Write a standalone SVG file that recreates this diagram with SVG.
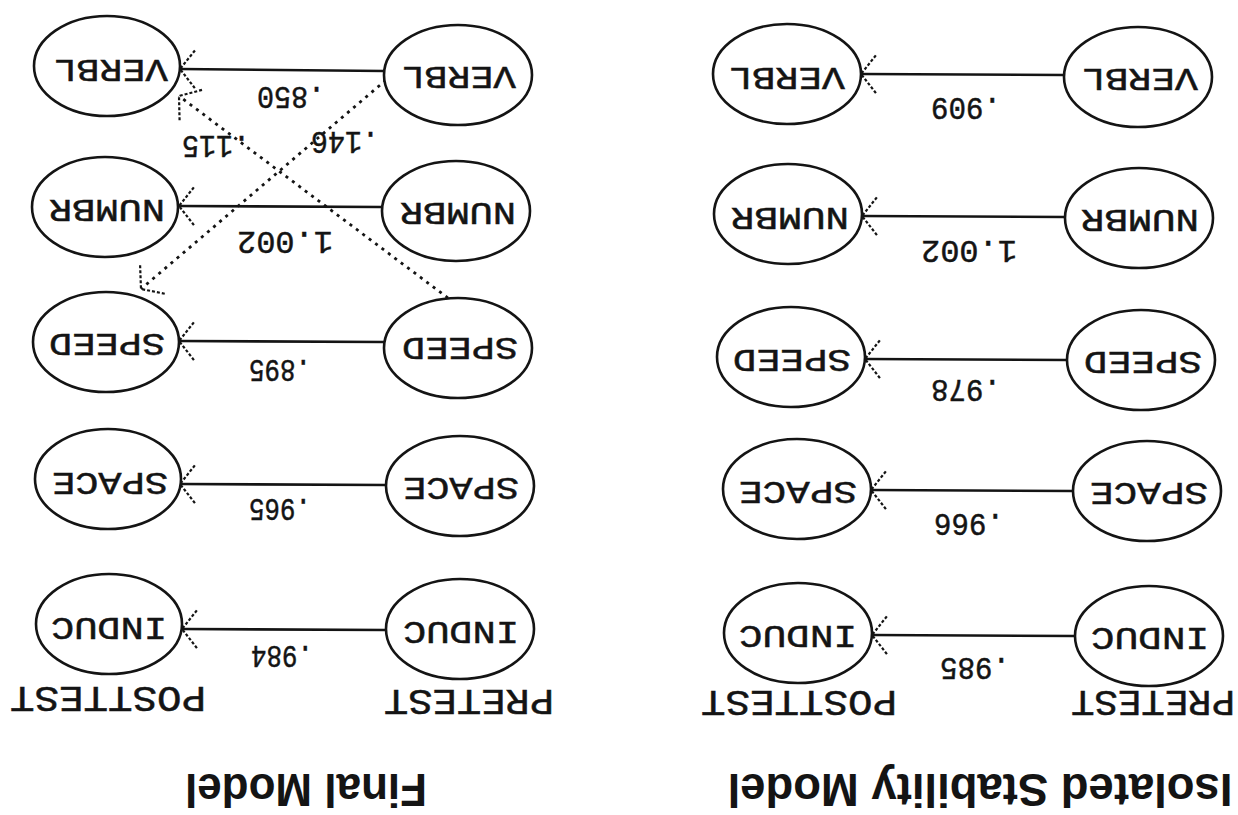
<svg xmlns="http://www.w3.org/2000/svg" width="1238" height="815" viewBox="0 0 1238 815">
  <style>
    .node ellipse { fill: #fff; stroke: #141414; stroke-width: 2.6; }
    .node text { font-family: "Liberation Mono", "DejaVu Sans Mono", monospace; font-size: 32px; fill: #141414; stroke: #141414; stroke-width: 0.5; text-anchor: middle; dominant-baseline: central; }
    .edge { stroke: #141414; stroke-width: 2.6; fill: none; }
    .dotted { stroke: #141414; stroke-width: 2.8; fill: none; stroke-dasharray: 3 5; }
    .elabel { font-family: "Liberation Mono", "DejaVu Sans Mono", monospace; font-size: 32px; fill: #141414; stroke: #141414; stroke-width: 0.5; text-anchor: middle; dominant-baseline: central; }
    .col { font-family: "Liberation Mono", "DejaVu Sans Mono", monospace; font-size: 36px; fill: #141414; stroke: #141414; stroke-width: 0.5; text-anchor: middle; dominant-baseline: central; }
    .title { font-family: "Liberation Sans", Arial, sans-serif; font-weight: bold; font-size: 46px; fill: #141414; text-anchor: middle; }
  </style>
  <defs>
    <!-- open chevron head, drawn as a broken stroke like the plotter output -->
    <marker id="arr" markerUnits="userSpaceOnUse" viewBox="-22 -24 30 48" refX="0" refY="0" markerWidth="30" markerHeight="48" orient="auto" overflow="visible">
      <path d="M-15,-19 L0,0 L-15,19" fill="none" stroke="#141414" stroke-width="2.2" stroke-dasharray="3 2"/>
    </marker>
  </defs>
  <rect width="1238" height="815" fill="#fff"/>

  <!-- Connectors: the whole sheet is printed upside down, so arrows run right to left -->
  <g id="connectors">
    <!-- Isolated stability model -->
    <line class="edge" x1="1064" y1="75" x2="861" y2="74" marker-end="url(#arr)"/>
    <line class="edge" x1="1065" y1="217" x2="862" y2="216" marker-end="url(#arr)"/>
    <line class="edge" x1="1067" y1="360" x2="865" y2="359" marker-end="url(#arr)"/>
    <line class="edge" x1="1073" y1="491" x2="871" y2="490" marker-end="url(#arr)"/>
    <line class="edge" x1="1075" y1="636" x2="872" y2="635" marker-end="url(#arr)"/>
    <!-- Final model -->
    <line class="edge" x1="384" y1="71" x2="180" y2="69" marker-end="url(#arr)"/>
    <line class="edge" x1="382" y1="207" x2="179" y2="206" marker-end="url(#arr)"/>
    <line class="edge" x1="384" y1="342" x2="179" y2="341" marker-end="url(#arr)"/>
    <line class="edge" x1="386" y1="485" x2="180" y2="484" marker-end="url(#arr)"/>
    <line class="edge" x1="386" y1="630" x2="182" y2="629" marker-end="url(#arr)"/>
    <!-- cross-lagged paths -->
    <line class="dotted" x1="386" y1="80" x2="141" y2="289" marker-end="url(#arr)"/>
    <line class="dotted" x1="448" y1="298" x2="179" y2="96" marker-end="url(#arr)"/>
  </g>

  <!-- Isolated stability model: posttest column -->
  <g id="iso-post-verbl" class="node"><ellipse cx="787" cy="74" rx="74" ry="50"/><text x="787" y="76" textLength="116" lengthAdjust="spacingAndGlyphs" transform="rotate(180 787 76)">VERBL</text></g>
  <g id="iso-post-numbr" class="node"><ellipse cx="788" cy="214" rx="74" ry="50"/><text x="790" y="216" textLength="118" lengthAdjust="spacingAndGlyphs" transform="rotate(180 790 216)">NUMBR</text></g>
  <g id="iso-post-speed" class="node"><ellipse cx="791" cy="357" rx="74" ry="50"/><text x="792" y="358" textLength="118" lengthAdjust="spacingAndGlyphs" transform="rotate(180 792 358)">SPEED</text></g>
  <g id="iso-post-space" class="node"><ellipse cx="797" cy="489" rx="74" ry="50"/><text x="798" y="490" textLength="118" lengthAdjust="spacingAndGlyphs" transform="rotate(180 798 490)">SPACE</text></g>
  <g id="iso-post-induc" class="node"><ellipse cx="798" cy="633" rx="74" ry="50"/><text x="798" y="634" textLength="118" lengthAdjust="spacingAndGlyphs" transform="rotate(180 798 634)">INDUC</text></g>

  <!-- Isolated stability model: pretest column -->
  <g id="iso-pre-verbl" class="node"><ellipse cx="1138" cy="77" rx="74" ry="50"/><text x="1140" y="77" textLength="116" lengthAdjust="spacingAndGlyphs" transform="rotate(180 1140 77)">VERBL</text></g>
  <g id="iso-pre-numbr" class="node"><ellipse cx="1139" cy="218" rx="74" ry="50"/><text x="1140" y="218" textLength="118" lengthAdjust="spacingAndGlyphs" transform="rotate(180 1140 218)">NUMBR</text></g>
  <g id="iso-pre-speed" class="node"><ellipse cx="1141" cy="360" rx="74" ry="50"/><text x="1143" y="360" textLength="118" lengthAdjust="spacingAndGlyphs" transform="rotate(180 1143 360)">SPEED</text></g>
  <g id="iso-pre-space" class="node"><ellipse cx="1147" cy="491" rx="74" ry="50"/><text x="1149" y="491" textLength="118" lengthAdjust="spacingAndGlyphs" transform="rotate(180 1149 491)">SPACE</text></g>
  <g id="iso-pre-induc" class="node"><ellipse cx="1149" cy="636" rx="74" ry="50"/><text x="1150" y="636" textLength="118" lengthAdjust="spacingAndGlyphs" transform="rotate(180 1150 636)">INDUC</text></g>

  <!-- Final model: posttest column -->
  <g id="fin-post-verbl" class="node"><ellipse cx="107" cy="66" rx="73" ry="50"/><text x="111" y="68" textLength="114" lengthAdjust="spacingAndGlyphs" transform="rotate(180 111 68)">VERBL</text></g>
  <g id="fin-post-numbr" class="node"><ellipse cx="105" cy="207" rx="73" ry="50"/><text x="107" y="208" textLength="116" lengthAdjust="spacingAndGlyphs" transform="rotate(180 107 208)">NUMBR</text></g>
  <g id="fin-post-speed" class="node"><ellipse cx="106" cy="342" rx="73" ry="50"/><text x="107" y="342" textLength="116" lengthAdjust="spacingAndGlyphs" transform="rotate(180 107 342)">SPEED</text></g>
  <g id="fin-post-space" class="node"><ellipse cx="108" cy="479" rx="73" ry="50"/><text x="110" y="481" textLength="116" lengthAdjust="spacingAndGlyphs" transform="rotate(180 110 481)">SPACE</text></g>
  <g id="fin-post-induc" class="node"><ellipse cx="109" cy="624" rx="73" ry="50"/><text x="109" y="626" textLength="116" lengthAdjust="spacingAndGlyphs" transform="rotate(180 109 626)">INDUC</text></g>

  <!-- Final model: pretest column -->
  <g id="fin-pre-verbl" class="node"><ellipse cx="458" cy="75" rx="74" ry="50"/><text x="459" y="75" textLength="114" lengthAdjust="spacingAndGlyphs" transform="rotate(180 459 75)">VERBL</text></g>
  <g id="fin-pre-numbr" class="node"><ellipse cx="456" cy="211" rx="74" ry="50"/><text x="458" y="211" textLength="116" lengthAdjust="spacingAndGlyphs" transform="rotate(180 458 211)">NUMBR</text></g>
  <g id="fin-pre-speed" class="node"><ellipse cx="458" cy="348" rx="74" ry="50"/><text x="460" y="346" textLength="116" lengthAdjust="spacingAndGlyphs" transform="rotate(180 460 346)">SPEED</text></g>
  <g id="fin-pre-space" class="node"><ellipse cx="460" cy="486" rx="74" ry="50"/><text x="461" y="486" textLength="116" lengthAdjust="spacingAndGlyphs" transform="rotate(180 461 486)">SPACE</text></g>
  <g id="fin-pre-induc" class="node"><ellipse cx="460" cy="629" rx="74" ry="50"/><text x="461" y="630" textLength="116" lengthAdjust="spacingAndGlyphs" transform="rotate(180 461 630)">INDUC</text></g>

  <!-- Path coefficients -->
  <g id="coefficients">
    <text class="elabel" x="966" y="106" textLength="70" lengthAdjust="spacingAndGlyphs" transform="rotate(180 966 106)">.909</text>
    <text class="elabel" x="969" y="249" textLength="96" lengthAdjust="spacingAndGlyphs" transform="rotate(180 969 249)">1.002</text>
    <text class="elabel" x="966" y="388" textLength="70" lengthAdjust="spacingAndGlyphs" transform="rotate(180 966 388)">.978</text>
    <text class="elabel" x="969" y="522" textLength="70" lengthAdjust="spacingAndGlyphs" transform="rotate(180 969 522)">.966</text>
    <text class="elabel" x="975" y="666" textLength="70" lengthAdjust="spacingAndGlyphs" transform="rotate(180 975 666)">.985</text>

    <text class="elabel" x="291" y="95" textLength="68" lengthAdjust="spacingAndGlyphs" transform="rotate(180 291 95)">.850</text>
    <text class="elabel" x="216" y="144" textLength="68" lengthAdjust="spacingAndGlyphs" transform="rotate(180 216 144)">.115</text>
    <text class="elabel" x="345" y="140" textLength="68" lengthAdjust="spacingAndGlyphs" transform="rotate(180 345 140)">.146</text>
    <text class="elabel" x="285" y="240" textLength="96" lengthAdjust="spacingAndGlyphs" transform="rotate(180 285 240)">1.002</text>
    <text class="elabel" x="280" y="368" textLength="62" lengthAdjust="spacingAndGlyphs" transform="rotate(180 280 368)">.895</text>
    <text class="elabel" x="280" y="507" textLength="62" lengthAdjust="spacingAndGlyphs" transform="rotate(180 280 507)">.965</text>
    <text class="elabel" x="282" y="654" textLength="62" lengthAdjust="spacingAndGlyphs" transform="rotate(180 282 654)">.984</text>
  </g>

  <!-- Column headings -->
  <g id="columns">
    <text class="col" x="108" y="696" textLength="196" lengthAdjust="spacingAndGlyphs" transform="rotate(180 108 696)">POSTTEST</text>
    <text class="col" x="469" y="699" textLength="170" lengthAdjust="spacingAndGlyphs" transform="rotate(180 469 699)">PRETEST</text>
    <text class="col" x="799" y="700" textLength="196" lengthAdjust="spacingAndGlyphs" transform="rotate(180 799 700)">POSTTEST</text>
    <text class="col" x="1153" y="700" textLength="164" lengthAdjust="spacingAndGlyphs" transform="rotate(180 1153 700)">PRETEST</text>
  </g>

  <!-- Model titles -->
  <g id="titles">
    <text class="title" x="306" y="774" textLength="242" lengthAdjust="spacingAndGlyphs" transform="rotate(180 306 774)">Final Model</text>
    <text class="title" x="980" y="774" textLength="505" lengthAdjust="spacingAndGlyphs" transform="rotate(180 980 774)">Isolated Stability Model</text>
  </g>
</svg>
